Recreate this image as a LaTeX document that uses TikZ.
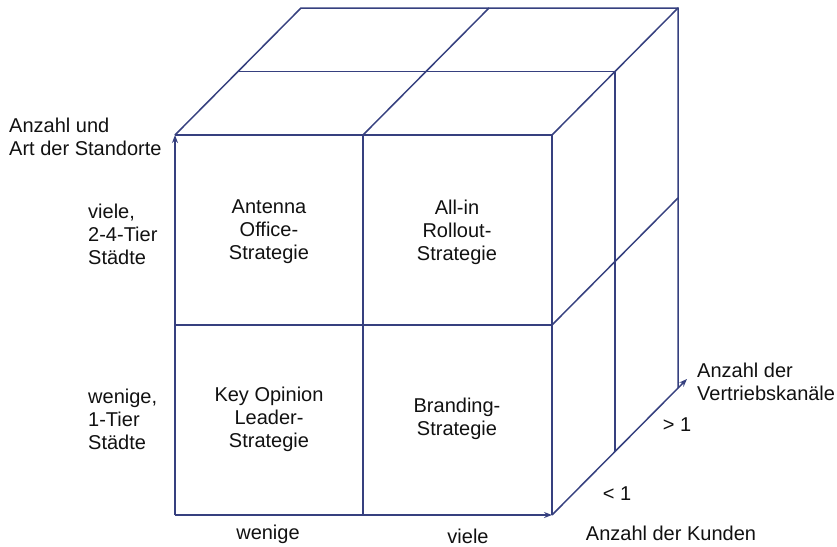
\documentclass[tikz,border=0pt]{standalone}
\usepackage{fontspec}
\setmainfont{Liberation Sans}
\usepackage{xcolor}
\usetikzlibrary{arrows.meta}
\definecolor{cubeblue}{HTML}{36407F}
\definecolor{txtblack}{HTML}{111111}

\tikzset{
	edge/.style={color=cubeblue, line width=1.5pt},
	axis/.style={color=cubeblue, line width=1.5pt, -{Stealth[length=8pt,width=6pt]}},
	lbl/.style={color=txtblack, inner sep=0pt, font=\fontsize{20}{23}\selectfont}
}

\begin{document}
\begin{tikzpicture}[x=1pt, y=-1pt]
		\useasboundingbox (0,0) rectangle (837,546);
		\coordinate (FBL) at (175,515);
		\coordinate (FBM) at (363,515);
		\coordinate (FBR) at (552,515);
		\coordinate (FML) at (175,325);
		\coordinate (FMR) at (552,325);
		\coordinate (FTL) at (175,135);
		\coordinate (FTM) at (363,135);
		\coordinate (FTR) at (552,135);
		\coordinate (HTL) at (238,71.5);
		\coordinate (HTR) at (615,71.5);
		\coordinate (HBR) at (615,451.5);
		\coordinate (BTL) at (301,8);
		\coordinate (BTM) at (489,8);
		\coordinate (BTR) at (678,8);
		\coordinate (BMR) at (678,198);
		\coordinate (BBR) at (678,388);
		\coordinate (KEnd) at (687,379);
		\draw[edge] (FTL) -- (FTR) -- (FBR);
		\draw[edge] (FTM) -- (FBM);
		\draw[edge] (FML) -- (FMR);
		\draw[edge] (FTL) -- (BTL) -- (BTR) -- (BBR);
		\draw[edge] (FTM) -- (BTM);
		\draw[edge] (FTR) -- (BTR);
		\draw[edge] (HTL) -- (HTR) -- (HBR);
		\draw[edge] (FMR) -- (BMR);
		\draw[axis] (FBL) -- (FTL);
		\draw[axis] (FBL) -- (FBR);
		\draw[axis] (FBR) -- (KEnd);
		\node[lbl, anchor=west, align=left] (standorte) at (9,137) {Anzahl und\\Art der Standorte};
		\node[lbl, anchor=west, align=left] (vieleS) at (88,234) {viele,\\2-4-Tier\\Städte};
		\node[lbl, anchor=west, align=left] (wenigeS) at (88,419) {wenige,\\1-Tier\\Städte};
		\node[lbl, align=center] (antenna) at (269,232) {Antenna\\Office-\\Strategie};
		\node[lbl, align=center] (allin) at (457,232) {All-in\\Rollout-\\Strategie};
		\node[lbl, align=center] (keyop) at (269,419) {Key Opinion\\Leader-\\Strategie};
		\node[lbl, align=center] (branding) at (457,419) {Branding-\\Strategie};
		\node[lbl] (wenigeK) at (268,534) {wenige};
		\node[lbl] (vieleK) at (468,536) {viele};
		\node[lbl] (kunden) at (671,533) {Anzahl der Kunden};
		\node[lbl] (klein) at (617,494) {< 1};
		\node[lbl] (gross) at (677,425) {> 1};
		\node[lbl, anchor=west, align=left] (kanaele) at (697,382) {Anzahl der\\Vertriebskanäle};
	\end{tikzpicture}
\end{document}
